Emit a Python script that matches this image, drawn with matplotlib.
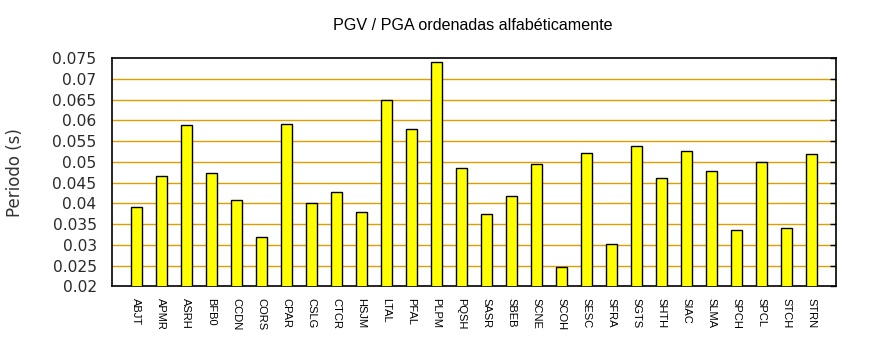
import matplotlib
matplotlib.use("Agg")
import matplotlib.pyplot as plt
import numpy as np

stations = ["ABJT", "APMR", "ASRH", "BFB0", "CCDN", "CORS", "CPAR", "CSLG", "CTCR",
            "HSJM", "LTAL", "PFAL", "PLPM", "PQSH", "SASR", "SBEB", "SCNE", "SCOH",
            "SESC", "SFRA", "SGTS", "SHTH", "SIAC", "SLMA", "SPCH", "SPCL", "STCH", "STRN"]
periods = [0.0392, 0.0467, 0.0588, 0.0474, 0.0407, 0.0320, 0.0592, 0.0400, 0.0428,
           0.0380, 0.0649, 0.0580, 0.0742, 0.0486, 0.0374, 0.0417, 0.0496, 0.0246,
           0.0522, 0.0301, 0.0539, 0.0462, 0.0527, 0.0477, 0.0337, 0.0500, 0.0340, 0.0518]
yticks = [0.02, 0.025, 0.03, 0.035, 0.04, 0.045, 0.05, 0.055, 0.06, 0.065, 0.07, 0.075]
ytick_labels = ["0.02", "0.025", "0.03", "0.035", "0.04", "0.045", "0.05", "0.055",
                "0.06", "0.065", "0.07", "0.075"]

fig = plt.figure(figsize=(8.7, 3.5), dpi=100)
ax = fig.add_axes([112 / 870, 1 - 286.3 / 350, (836 - 112) / 870, (286.3 - 58.3) / 350])

x = np.arange(len(stations))
ax.bar(x, periods, width=0.46, bottom=0, color="#ffff00", edgecolor="black",
       linewidth=1.0, zorder=3)

ax.set_ylim(0.02, 0.075)
ax.set_xlim(-0.97, len(stations) - 0.03)

ax.set_yticks(yticks)
ax.set_yticklabels(ytick_labels, fontsize=11.2, color="#2a2a2a", family="DejaVu Sans")
for y in yticks[1:-1]:
    ax.axhline(y, color="#dda000", linewidth=1.0, zorder=1)

ax.tick_params(axis="y", which="both", left=False, right=True, direction="in",
               length=4, width=1, color="black", pad=11, labelleft=True)

ax.set_xticks(x)
ax.set_xticklabels(stations, rotation=-90, fontsize=8, family="Liberation Sans",
                   va="top", ha="center")
ax.tick_params(axis="x", bottom=False, top=False, pad=5)

for side in ("top", "bottom", "left", "right"):
    ax.spines[side].set_linewidth(1.2)

ax.set_ylabel("Periodo (s)", fontsize=12, color="#333333", family="DejaVu Sans")
ax.yaxis.set_label_coords(-88 / 724, 0.5)

fig.text(473 / 870, 1 - 25 / 350, "PGV / PGA ordenadas alfabéticamente",
         ha="center", va="center", fontsize=11.6, family="Liberation Sans")

fig.savefig("out.png", dpi=100)
